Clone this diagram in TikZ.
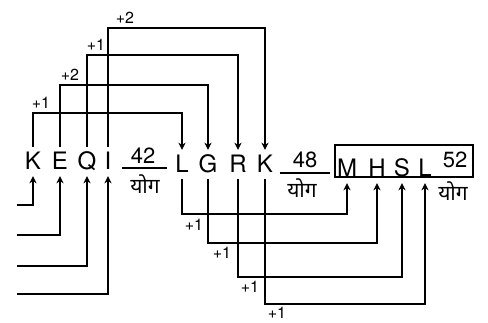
\documentclass[tikz,border=0pt]{standalone}
\usepackage{fontspec}
\setmainfont{TeX Gyre Heros}
\newfontfamily\devfont[Script=Devanagari]{Noto Sans}
\usetikzlibrary{arrows.meta}
\begin{document}
\begin{tikzpicture}[x=1pt,y=-1pt,
  letter/.style={font=\fontsize{24}{24}\selectfont, inner xsep=0pt, inner ysep=5pt,
    text height=17pt, text depth=2pt, anchor=base},
  num/.style={font=\fontsize{22}{22}\selectfont, inner sep=0pt},
  dev/.style={font=\devfont\fontsize{21}{21}\selectfont, inner sep=0pt},
  lab/.style={font=\fontsize{16}{16}\selectfont, inner sep=0pt},
  conn/.style={line width=1.5pt},
  arr/.style={line width=1.5pt, -{Stealth[length=7pt,width=7pt,inset=2pt]}}]
\useasboundingbox (0,0) rectangle (488,322);
% group 1
\node[letter] (K1) at (33,169) {K};
\node[letter] (E1) at (60,169) {E};
\node[letter] (Q1) at (87,169) {Q};
\node[letter] (I1) at (108,169) {I};
\node[num] (n42) at (143,156) {42};
\draw[conn] (122,168) -- (167,168);
\node[dev] (y42) at (145,184) {योग};
% group 2
\node[letter] (L2) at (182,172) {L};
\node[letter] (G2) at (208,172) {G};
\node[letter] (R2) at (238,172) {R};
\node[letter] (K2) at (265,172) {K};
\node[num] (n48) at (305,160) {48};
\draw[conn] (280,173) -- (330,173);
\node[dev] (y48) at (302,188) {योग};
% group 3
\draw[conn] (335,145) rectangle (473,177);
\node[letter] (M3) at (347,176) {M};
\node[letter] (H3) at (377,176) {H};
\node[letter] (S3) at (402,176) {S};
\node[letter] (L3) at (425,176) {L};
\node[num] (n52) at (455,160) {52};
\node[dev] (y52) at (453,191) {योग};
% top connectors
\draw[arr] (K1.north) -- (K1.north |- 0,113) -| (L2.north);
\draw[arr] (E1.north) -- (E1.north |- 0,85) -| (G2.north);
\draw[arr] (Q1.north) -- (Q1.north |- 0,55) -| (R2.north);
\draw[arr] (I1.north) -- (I1.north |- 0,28) -| (K2.north);
\node[lab] (t1) at (41,103) {+1};
\node[lab] (t2) at (70,75) {+2};
\node[lab] (t3) at (96,45) {+1};
\node[lab] (t4) at (125,18) {+2};
% left incoming arrows
\coordinate (a1) at (17,205);
\coordinate (a2) at (17,235);
\coordinate (a3) at (17,266);
\coordinate (a4) at (17,294);
\draw[arr] (a1) -| (K1.south);
\draw[arr] (a2) -| (E1.south);
\draw[arr] (a3) -| (Q1.south);
\draw[arr] (a4) -| (I1.south);
% bottom connectors
\draw[arr] (L2.south) -- (L2.south |- 0,214) -| (M3.south);
\draw[arr] (G2.south) -- (G2.south |- 0,243) -| (H3.south);
\draw[arr] (R2.south) -- (R2.south |- 0,277) -| (S3.south);
\draw[arr] (K2.south) -- (K2.south |- 0,304) -| (L3.south);
\node[lab] (b1) at (194,225) {+1};
\node[lab] (b2) at (222,253) {+1};
\node[lab] (b3) at (250,287) {+1};
\node[lab] (b4) at (277,313) {+1};
\end{tikzpicture}
\end{document}
